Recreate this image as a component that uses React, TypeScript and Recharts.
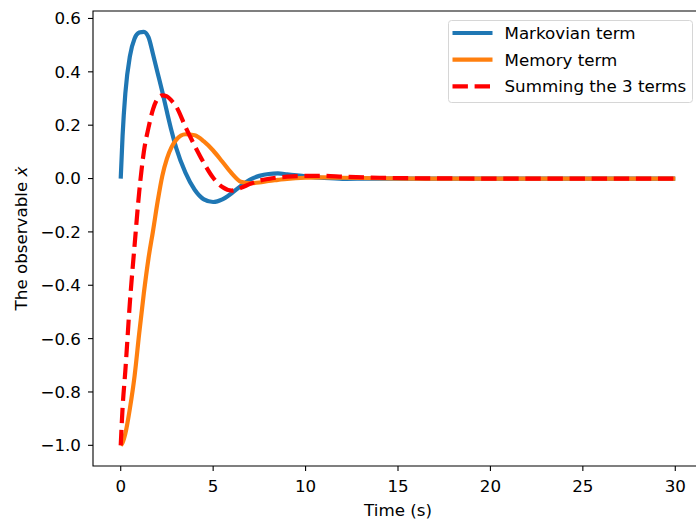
import React from 'react'
import { LineChart, Line, XAxis, YAxis, Legend, ReferenceArea } from 'recharts'

// time axis (s) and the three curves
const time = [0, 0.1, 0.25, 0.5, 0.75, 1, 1.25, 1.5, 1.75, 2, 2.25, 2.5, 2.75, 3, 3.5, 4, 4.5, 5, 5.5, 6, 6.5, 7, 7.5, 8, 8.5, 9, 10, 11, 12, 14, 16, 20, 25, 30]
const markovian = [0, 0.16, 0.32, 0.46, 0.525, 0.547, 0.55, 0.53, 0.465, 0.395, 0.325, 0.25, 0.178, 0.115, 0.022, -0.042, -0.078, -0.088, -0.078, -0.055, -0.028, -0.004, 0.01, 0.017, 0.019, 0.016, 0.008, 0.002, -0.001, 0, 0, 0, 0, 0]
const memory = [-1, -0.99, -0.956, -0.86, -0.74, -0.58, -0.43, -0.3, -0.195, -0.085, 0.01, 0.075, 0.118, 0.145, 0.166, 0.162, 0.139, 0.105, 0.063, 0.02, -0.012, -0.018, -0.015, -0.009, -0.005, -0.001, 0.003, 0.004, 0.003, 0.001, 0, 0, 0, 0]
const summed = [-1, -0.86, -0.72, -0.46, -0.25, -0.05, 0.1, 0.19, 0.26, 0.3, 0.312, 0.308, 0.292, 0.27, 0.194, 0.123, 0.058, 0.003, -0.032, -0.045, -0.035, -0.02, -0.008, -0.001, 0.004, 0.007, 0.01, 0.01, 0.007, 0.003, 0.001, 0, 0, 0]

const xTicks = [0, 5, 10, 15, 20, 25, 30]
const yTicks = [-1.0, -0.8, -0.6, -0.4, -0.2, 0, 0.2, 0.4, 0.6]

const data = time.map((t, i) => ({ t, markov: markovian[i], memory: memory[i], sum: summed[i] }))

const FONT = 'DejaVu Sans'
const FS = 16.7
const DASH = '15.4 6.7'

const fmtY = (v: number) => v.toFixed(1).replace('-', '\u2212')

const renderLegend = (props: any) => {
  const items = props.payload || []
  return (
    <svg width={246} height={84} style={{ display: 'block' }}>
      <rect x={0.5} y={0.5} width={244} height={82} rx={3} fill="#fff" fillOpacity={0.8} stroke="#d6d6d6" />
      {items.map((it: any, i: number) => {
        const y = 13 + i * 26.7
        return (
          <g key={i}>
            <line x1={4.5} x2={44.5} y1={y} y2={y} stroke={it.color} strokeWidth={4.2}
              strokeDasharray={it.payload?.strokeDasharray} />
            <text x={56.5} y={y + 6} fontSize={FS} fontFamily={FONT} fill="#000">{it.value}</text>
          </g>
        )
      })}
    </svg>
  )
}

export default function App() {
  return (
    <div style={{ position: 'absolute', left: 0, top: 0, width: 696, height: 523, overflow: 'hidden', background: '#fff', fontFamily: FONT }}>
      <LineChart width={712} height={523} data={data} margin={{ top: 11, right: 9, bottom: 0, left: 0 }}>
        <XAxis dataKey="t" type="number" domain={[-1.5, 31.5]} ticks={xTicks} allowDataOverflow
          height={57} axisLine={false} tickSize={5} tickMargin={9}
          tickLine={{ stroke: '#000', strokeWidth: 1.1 }}
          tick={{ fill: '#000', fontSize: FS, fontFamily: FONT }}
          label={(p: any) => (
            <text x={p.viewBox.x + p.viewBox.width / 2} y={516} textAnchor="middle" fontSize={FS} fontFamily={FONT} fill="#000">Time (s)</text>
          )} />
        <YAxis type="number" domain={[-1.0775, 0.628]} ticks={yTicks} allowDataOverflow
          width={93} axisLine={false} tickSize={5} tickMargin={7}
          tickLine={{ stroke: '#000', strokeWidth: 1.1 }}
          tick={{ fill: '#000', fontSize: FS, fontFamily: FONT }}
          tickFormatter={fmtY}
          label={(p: any) => {
            const cy = p.viewBox.y + p.viewBox.height / 2
            return (
              <text x={27} y={cy} transform={`rotate(-90, 27, ${cy})`} textAnchor="middle" fontSize={FS} fontFamily={FONT} fill="#000">
                The observable <tspan fontStyle="italic">{'\u1E8B'}</tspan>
              </text>
            )
          }} />
        <ReferenceArea x1={-1.5} x2={31.5} y1={-1.0775} y2={0.628} fill="none" stroke="#000" strokeWidth={1.1} ifOverflow="visible" />
        <Line dataKey="markov" name="Markovian term" type="monotone" stroke="#1f77b4" strokeWidth={4.2} dot={false} isAnimationActive={false} />
        <Line dataKey="memory" name="Memory term" type="monotone" stroke="#ff7f0e" strokeWidth={4.2} dot={false} isAnimationActive={false} />
        <Line dataKey="sum" name="Summing the 3 terms" type="monotone" stroke="#ff0000" strokeWidth={4.2} strokeDasharray={DASH} dot={false} isAnimationActive={false} />
        <Legend layout="horizontal" verticalAlign="middle" align="center" content={renderLegend}
          wrapperStyle={{ left: 448, top: 20, width: 246, height: 84 }} />
      </LineChart>
    </div>
  )
}
